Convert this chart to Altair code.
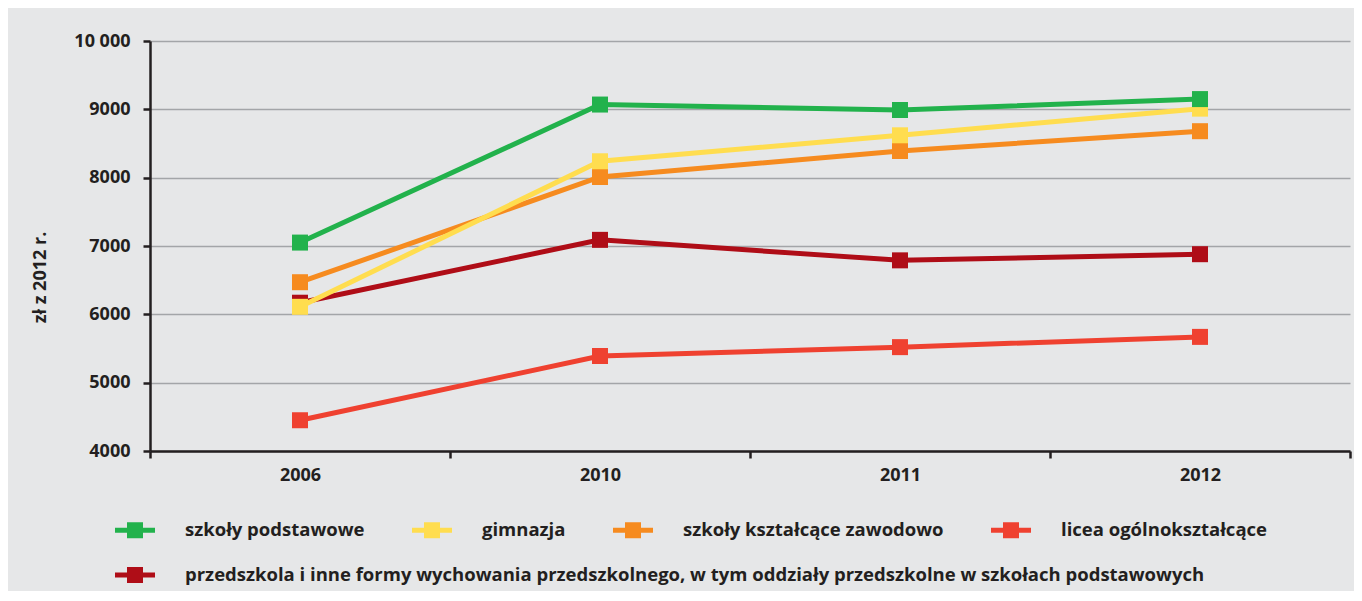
import altair as alt
import pandas as pd

years = ["2006", "2010", "2011", "2012"]
series = [
    "szkoły podstawowe",
    "gimnazja",
    "szkoły kształcące zawodowo",
    "licea ogólnokształcące",
    "przedszkola i inne formy wychowania przedszkolnego, w tym oddziały przedszkolne w szkołach podstawowych",
]
colors = ["#22B24C", "#FFDD4F", "#F68B1F", "#EF4130", "#AF0D17"]

szkoly_podstawowe = [7050, 9070, 8990, 9150]
gimnazja = [6110, 8240, 8620, 9010]
szkoly_zawodowe = [6470, 8010, 8390, 8680]
licea = [4450, 5390, 5520, 5670]
przedszkola = [6170, 7090, 6790, 6880]

values = [szkoly_podstawowe, gimnazja, szkoly_zawodowe, licea, przedszkola]
draw_order = [4, 3, 2, 1, 0]

rows = []
for k in draw_order:
    for y, v in zip(years, values[k]):
        rows.append({"rok": y, "seria": series[k], "wartosc": v, "idx": k})
df = pd.DataFrame(rows)

FONT = "Open Sans"
TXT = "#231F20"
BG = "#E6E7E8"
W = "bold"
LFS = 18.5

x_enc = alt.X(
    "rok:O",
    bandPosition=0.5,
    sort=years,
    scale=alt.Scale(type="band", domain=years, paddingInner=0, paddingOuter=0),
    axis=alt.Axis(
        title=None, tickBand="extent", tickSize=7, tickWidth=2.5, tickColor=TXT,
        domainColor=TXT, domainWidth=2.5, labelFont=FONT, labelFontSize=18,
        labelFontWeight=W, labelColor=TXT, labelPadding=8, labelAngle=0, grid=False,
    ),
)
y_enc = alt.Y(
    "wartosc:Q",
    scale=alt.Scale(domain=[4000, 10000], nice=False, zero=False),
    axis=alt.Axis(
        title="zł z 2012 r.", values=[4000, 5000, 6000, 7000, 8000, 9000, 10000],
        labelExpr="datum.value == 10000 ? '10 000' : format(datum.value, 'd')",
        tickSize=7, tickWidth=2.5, tickColor=TXT, domainColor=TXT, domainWidth=2.5,
        labelFont=FONT, labelFontSize=18, labelFontWeight=W, labelColor=TXT,
        labelPadding=13, grid=True, gridColor="#A3A5A8", gridWidth=1.3,
        titleFont=FONT, titleFontSize=18, titleFontWeight=W, titleColor=TXT,
        titleAngle=270, titleX=-110, titleY=236, titleAlign="center",
        titleBaseline="middle",
    ),
)

sym = "M-1,-0.125L1,-0.125L1,0.125L-1,0.125Z M-0.4,-0.4L0.4,-0.4L0.4,0.4L-0.4,0.4Z"

base = alt.Chart(df)

lines = base.mark_line(strokeWidth=5).encode(
    x=x_enc,
    y=y_enc,
    stroke=alt.Stroke("seria:N", scale=alt.Scale(domain=series, range=colors), legend=None),
    detail="seria:N",
    order=alt.Order("rok:O"),
)

pts_last = base.transform_filter(alt.datum.idx == 4).mark_square(size=256, opacity=1).encode(
    x=x_enc,
    y=y_enc,
    fill=alt.Fill(
        "seria:N",
        scale=alt.Scale(domain=[series[4]], range=[colors[4]]),
        legend=alt.Legend(
            title=None, orient="none", legendX=-35, legendY=514, direction="horizontal",
            symbolType=sym, symbolSize=1600, symbolStrokeWidth=0, symbolOpacity=1,
            labelFont=FONT, labelFontSize=LFS, labelFontWeight=W, labelColor=TXT,
            labelOffset=30, labelLimit=2000, padding=0,
        ),
    ),
)

pts_main = base.transform_filter(alt.datum.idx < 4).mark_square(size=256, opacity=1).encode(
    x=x_enc,
    y=y_enc,
    color=alt.Color(
        "seria:N",
        sort=series[:4],
        scale=alt.Scale(domain=series[:4], range=colors[:4]),
        legend=alt.Legend(
            title=None, orient="none", legendX=-35, legendY=469, direction="horizontal",
            symbolType=sym, symbolSize=1600, symbolStrokeWidth=0, symbolOpacity=1,
            labelFont=FONT, labelFontSize=LFS, labelFontWeight=W, labelColor=TXT,
            labelOffset=30, labelLimit=2000, columnPadding=47, padding=0,
        ),
    ),
)

chart = (
    alt.layer(lines, pts_last, pts_main)
    .properties(
        width=1200, height=410, background=BG,
        padding={"left": 142, "top": 33, "right": 4, "bottom": 140},
        autosize=alt.AutoSizeParams(type="none"),
    )
    .configure_view(stroke=None)
)

chart.save("out.html", embed_options={"renderer": "svg", "actions": False})
